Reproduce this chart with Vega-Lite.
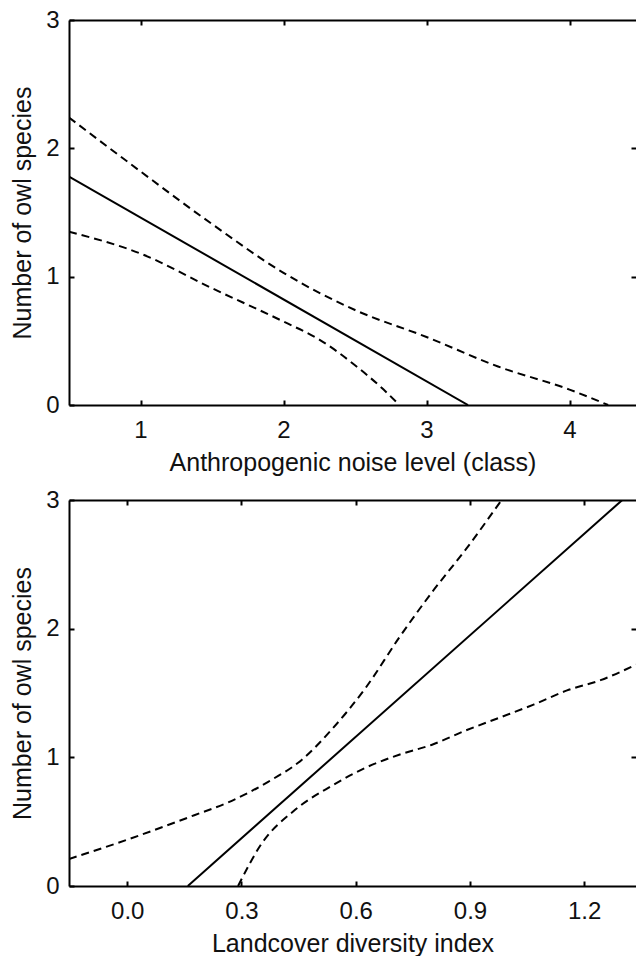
{
  "$schema": "https://vega.github.io/schema/vega-lite/v6.json",
  "padding": {"left": 10, "top": 8, "right": 0, "bottom": 0},
  "background": "white",
  "spacing": 95,
  "bounds": "flush",
  "config": {
    "view": {"stroke": null},
    "font": "Liberation Sans",
    "axis": {
      "domainColor": "black",
      "domainWidth": 2,
      "tickColor": "black",
      "tickWidth": 2,
      "tickSize": -5,
      "grid": false,
      "labelFont": "Liberation Sans",
      "labelFontSize": 24,
      "labelColor": "#111",
      "titleFont": "Liberation Sans",
      "titleFontSize": 25,
      "titleFontWeight": "normal",
      "titleColor": "#111",
      "labelFlush": false,
      "labelOverlap": false
    }
  },
  "datasets": {
    "noise": [
      {"x": 0.5, "y": 1.78, "series": "fit", "kind": "fit"},
      {"x": 3.29, "y": 0, "series": "fit", "kind": "fit"},
      {"x": 0.5, "y": 2.24, "series": "upper", "kind": "ci"},
      {"x": 1.0, "y": 1.82, "series": "upper", "kind": "ci"},
      {"x": 1.5, "y": 1.41, "series": "upper", "kind": "ci"},
      {"x": 2.0, "y": 1.03, "series": "upper", "kind": "ci"},
      {"x": 2.5, "y": 0.74, "series": "upper", "kind": "ci"},
      {"x": 3.0, "y": 0.53, "series": "upper", "kind": "ci"},
      {"x": 3.5, "y": 0.30, "series": "upper", "kind": "ci"},
      {"x": 4.0, "y": 0.12, "series": "upper", "kind": "ci"},
      {"x": 4.27, "y": 0, "series": "upper", "kind": "ci"},
      {"x": 0.5, "y": 1.35, "series": "lower", "kind": "ci"},
      {"x": 1.0, "y": 1.18, "series": "lower", "kind": "ci"},
      {"x": 1.5, "y": 0.91, "series": "lower", "kind": "ci"},
      {"x": 2.0, "y": 0.65, "series": "lower", "kind": "ci"},
      {"x": 2.25, "y": 0.51, "series": "lower", "kind": "ci"},
      {"x": 2.5, "y": 0.31, "series": "lower", "kind": "ci"},
      {"x": 2.7, "y": 0.12, "series": "lower", "kind": "ci"},
      {"x": 2.81, "y": 0, "series": "lower", "kind": "ci"}
    ],
    "landcover": [
      {"x": 0.159, "y": 0, "series": "fit", "kind": "fit"},
      {"x": 1.30, "y": 3, "series": "fit", "kind": "fit"},
      {"x": -0.153, "y": 0.21, "series": "upper", "kind": "ci"},
      {"x": 0.0, "y": 0.36, "series": "upper", "kind": "ci"},
      {"x": 0.176, "y": 0.55, "series": "upper", "kind": "ci"},
      {"x": 0.265, "y": 0.65, "series": "upper", "kind": "ci"},
      {"x": 0.37, "y": 0.81, "series": "upper", "kind": "ci"},
      {"x": 0.458, "y": 0.98, "series": "upper", "kind": "ci"},
      {"x": 0.538, "y": 1.22, "series": "upper", "kind": "ci"},
      {"x": 0.626, "y": 1.54, "series": "upper", "kind": "ci"},
      {"x": 0.714, "y": 1.93, "series": "upper", "kind": "ci"},
      {"x": 0.802, "y": 2.29, "series": "upper", "kind": "ci"},
      {"x": 0.89, "y": 2.62, "series": "upper", "kind": "ci"},
      {"x": 0.983, "y": 3.0, "series": "upper", "kind": "ci"},
      {"x": 0.291, "y": 0, "series": "lower", "kind": "ci"},
      {"x": 0.353, "y": 0.33, "series": "lower", "kind": "ci"},
      {"x": 0.44, "y": 0.59, "series": "lower", "kind": "ci"},
      {"x": 0.538, "y": 0.78, "series": "lower", "kind": "ci"},
      {"x": 0.626, "y": 0.92, "series": "lower", "kind": "ci"},
      {"x": 0.714, "y": 1.02, "series": "lower", "kind": "ci"},
      {"x": 0.802, "y": 1.10, "series": "lower", "kind": "ci"},
      {"x": 0.89, "y": 1.21, "series": "lower", "kind": "ci"},
      {"x": 0.979, "y": 1.31, "series": "lower", "kind": "ci"},
      {"x": 1.067, "y": 1.41, "series": "lower", "kind": "ci"},
      {"x": 1.155, "y": 1.52, "series": "lower", "kind": "ci"},
      {"x": 1.243, "y": 1.60, "series": "lower", "kind": "ci"},
      {"x": 1.336, "y": 1.72, "series": "lower", "kind": "ci"}
    ]
  },
  "vconcat": [
    {
      "width": 567,
      "height": 385,
      "data": {"name": "noise"},
      "layer": [
        {
          "transform": [{"filter": "datum.kind === 'fit'"}],
          "mark": {"type": "line", "color": "black", "strokeWidth": 2, "clip": true},
          "encoding": {
            "x": {"field": "x", "type": "quantitative", "scale": {"domain": [0.5, 4.465], "nice": false, "zero": false},
              "axis": {"orient": "bottom", "values": [1, 2, 3, 4], "title": "Anthropogenic noise level (class)", "labelPadding": 18, "titlePadding": 8}},
            "y": {"field": "y", "type": "quantitative", "scale": {"domain": [0, 3], "nice": false},
              "axis": {"orient": "left", "values": [0, 1, 2, 3], "title": "Number of owl species", "labelPadding": 15, "titlePadding": 10}},
            "detail": {"field": "series"}
          }
        },
        {
          "transform": [{"filter": "datum.kind === 'ci'"}],
          "mark": {"type": "line", "color": "black", "strokeWidth": 2, "strokeDash": [8, 5], "interpolate": "monotone", "clip": true},
          "encoding": {
            "x": {"field": "x", "type": "quantitative", "axis": {"orient": "top", "values": [1, 2, 3, 4], "labels": false, "title": null}},
            "y": {"field": "y", "type": "quantitative", "axis": {"orient": "right", "values": [1, 2], "labels": false, "title": null, "domain": false}},
            "detail": {"field": "series"}
          }
        }
      ]
    },
    {
      "width": 567,
      "height": 386,
      "data": {"name": "landcover"},
      "layer": [
        {
          "transform": [{"filter": "datum.kind === 'fit'"}],
          "mark": {"type": "line", "color": "black", "strokeWidth": 2, "clip": true},
          "encoding": {
            "x": {"field": "x", "type": "quantitative", "scale": {"domain": [-0.153, 1.336], "nice": false, "zero": false},
              "axis": {"orient": "bottom", "values": [0, 0.3, 0.6, 0.9, 1.2], "format": ".1f", "title": "Landcover diversity index", "labelPadding": 18, "titlePadding": 8}},
            "y": {"field": "y", "type": "quantitative", "scale": {"domain": [0, 3], "nice": false},
              "axis": {"orient": "left", "values": [0, 1, 2, 3], "title": "Number of owl species", "labelPadding": 15, "titlePadding": 10}},
            "detail": {"field": "series"}
          }
        },
        {
          "transform": [{"filter": "datum.kind === 'ci'"}],
          "mark": {"type": "line", "color": "black", "strokeWidth": 2, "strokeDash": [8, 5], "interpolate": "monotone", "clip": true},
          "encoding": {
            "x": {"field": "x", "type": "quantitative", "axis": {"orient": "top", "values": [0, 0.3, 0.6, 0.9, 1.2], "labels": false, "title": null}},
            "y": {"field": "y", "type": "quantitative", "axis": {"orient": "right", "values": [1, 2], "labels": false, "title": null, "domain": false}},
            "detail": {"field": "series"}
          }
        }
      ]
    }
  ]
}
